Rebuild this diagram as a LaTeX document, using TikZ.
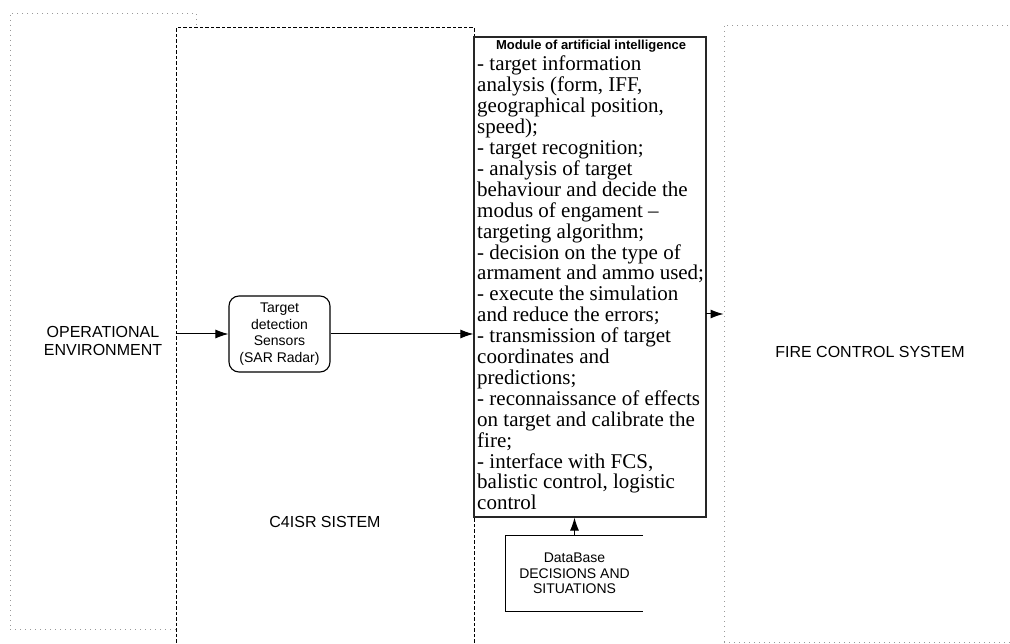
\documentclass[tikz,border=0pt]{standalone}
\usepackage{fontspec}
\setmainfont{Liberation Serif}
\setsansfont{Liberation Sans}
\usetikzlibrary{arrows.meta}
\begin{document}
\begin{tikzpicture}[x=1pt,y=-1pt,
  dotbox/.style={draw=black!40, line width=0.9pt, dash pattern=on 1pt off 4pt, inner sep=0pt},
  dashbox/.style={draw=black, line width=1pt, dash pattern=on 3.5pt off 2pt, fill=white, inner sep=0pt},
  aibox/.style={draw=black!85, line width=1.2pt, inner sep=0pt},
  sensorbox/.style={draw=black, line width=1.1pt, rounded corners=10pt, inner sep=0pt,
    minimum width=101pt, minimum height=76pt, align=center,
    font=\sffamily\fontsize{14}{16.7}\selectfont},
  arr/.style={-{Latex[length=13pt,width=9pt]}, line width=1pt, draw=black},
  biglabel/.style={font=\sffamily\fontsize{16}{18.5}\selectfont, align=center, inner sep=0pt},
  bodytext/.style={font=\rmfamily\fontsize{21}{20.9}\selectfont, align=left, inner sep=0pt},
]
\useasboundingbox (0,0) rectangle (1010,644);
\clip (0,0) rectangle (1010,644);
\fill[white] (0,0) rectangle (1010,644);

% operational environment
\node[dotbox, minimum width=186pt, minimum height=616pt] (openv) at (103,321) {};
\node[biglabel] (oplabel) at (103,341) {OPERATIONAL\\ENVIRONMENT};

% C4ISR system
\node[dashbox, minimum width=298pt, minimum height=652pt] (c4isr) at (325,354) {};
\node[biglabel] (c4label) at (325,522) {C4ISR SISTEM};

% fire control system
\node[dotbox, minimum width=306pt, minimum height=617pt] (fcs) at (877,333.5) {};
\node[biglabel] (fcslabel) at (870,352) {FIRE CONTROL SYSTEM};

% AI module
\node[aibox, minimum width=232pt, minimum height=480pt] (ai) at (590,277) {};
\node[font=\sffamily\bfseries\fontsize{13}{15}\selectfont, inner sep=0pt, anchor=base] (aititle) at (591,50) {Module of artificial intelligence};
\node[bodytext, anchor=north west] (aibody) at (477,56) {- target information\\
analysis (form, IFF,\\
geographical position,\\
speed);\\
- target recognition;\\
- analysis of target\\
behaviour and decide the\\
modus of engament –\\
targeting algorithm;\\
- decision on the type of\\
armament and ammo used;\\
- execute the simulation\\
and reduce the errors;\\
- transmission of target\\
coordinates and\\
predictions;\\
- reconnaissance of effects\\
on target and calibrate the\\
fire;\\
- interface with FCS,\\
balistic control, logistic\\
control};

% sensor
\node[sensorbox] (sensor) at (279.5,334) {Target\\detection\\Sensors\\(SAR Radar)};

% database
\node[minimum width=137pt, minimum height=75pt, inner sep=0pt, align=center,
  font=\sffamily\fontsize{14}{15.5}\selectfont] (db) at (574.5,573.5) {DataBase\\DECISIONS AND\\SITUATIONS};
\draw[line width=1pt] (db.north east) -- (db.north west) -- (db.south west) -- (db.south east);

% connectors
\draw[arr] (sensor.west -| c4isr.west) -- (sensor.west);
\draw[arr] (sensor.east) -- (sensor.east -| ai.west);
\coordinate (aiout) at (706,314);
\draw[arr] (aiout) -- (aiout -| fcs.west);
\draw[arr] (db.north) -- (db.north |- ai.south);
\end{tikzpicture}
\end{document}
